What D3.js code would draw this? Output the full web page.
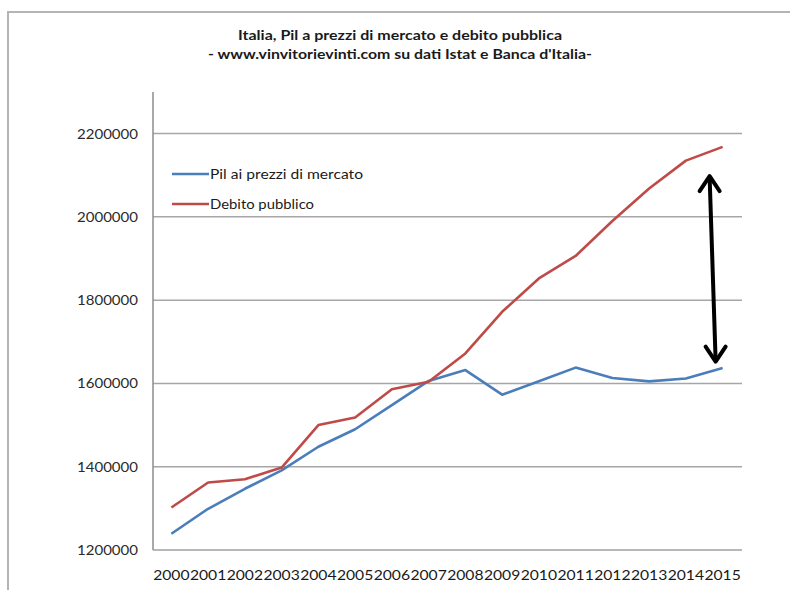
<!DOCTYPE html>
<html><head><meta charset="utf-8">
<script src="https://cdn.jsdelivr.net/npm/d3@7/dist/d3.min.js"></script>
<style>html,body{margin:0;padding:0;background:#fff;}svg{display:block;}</style>
</head><body><svg id="c" width="790" height="590"></svg>
<script>
const years = ["2000","2001","2002","2003","2004","2005","2006","2007","2008","2009","2010","2011","2012","2013","2014","2015"];
const pil = [1239000,1299000,1347000,1391000,1448000,1490000,1548000,1606000,1632000,1573000,1605000,1638000,1613000,1605000,1612000,1637000];
const debito = [1302000,1362000,1370000,1398000,1500000,1518000,1586000,1604000,1672000,1772000,1852000,1906000,1990000,2068000,2135000,2168000];
const yTicks = [1200000,1400000,1600000,1800000,2000000,2200000];
const seriesNames = ["Pil ai prezzi di mercato","Debito pubblico"];
const seriesColors = ["#4a7ebb","#be4b48"];
const titleLines = ["Italia, Pil a prezzi di mercato e debito pubblica","- www.vinvitorievinti.com su dati Istat e Banca d'Italia-"];
const arrowValues = [2100000, 1650000];

const svg = d3.select("#c");
const font = "Lato, 'Open Sans', sans-serif";

// outer frame
svg.append("path").attr("d","M8,590 L8,12 L790,12").attr("fill","none").attr("stroke","#b4b4b4").attr("stroke-width",2);

const x = d3.scaleBand().domain(years).range([153,741]).padding(0);
const y = d3.scaleLinear().domain([1200000,2300000]).range([550,91.9]);

// gridlines
svg.append("g").selectAll("line").data(yTicks.slice(1)).join("line")
  .attr("x1",153).attr("x2",742).attr("y1",d=>y(d)).attr("y2",d=>y(d))
  .attr("stroke","#a6a6a6").attr("stroke-width",1.5);

// axes
svg.append("line").attr("x1",153).attr("x2",742).attr("y1",y(1200000)).attr("y2",y(1200000)).attr("stroke","#a0a0a0").attr("stroke-width",1.5);
svg.append("line").attr("x1",153).attr("x2",153).attr("y1",y(2300000)).attr("y2",y(1200000)).attr("stroke","#8c8c8c").attr("stroke-width",1.5);

// y labels
svg.append("g").selectAll("text").data(yTicks).join("text")
  .attr("x",138).attr("y",d=>y(d)+5).attr("text-anchor","end")
  .attr("font-family",font).attr("font-size",13.5).attr("fill","#2a2a2a")
  .attr("textLength",61).attr("lengthAdjust","spacingAndGlyphs")
  .text(d=>d3.format("d")(d));

// x labels
svg.append("g").selectAll("text").data(years).join("text")
  .attr("x",d=>x(d)+x.bandwidth()/2).attr("y",580).attr("text-anchor","middle")
  .attr("font-family",font).attr("font-size",13.5).attr("fill","#1a1a1a")
  .attr("textLength",36.4).attr("lengthAdjust","spacingAndGlyphs")
  .text(d=>d);

// lines
const line = d3.line().x((d,i)=>x(years[i])+x.bandwidth()/2).y(d=>y(d));
[pil, debito].forEach((s,k)=>{
  svg.append("path").datum(s).attr("d",line).attr("fill","none")
    .attr("stroke",seriesColors[k]).attr("stroke-width",2.6).attr("stroke-linejoin","round");
});

// legend
const lg = svg.append("g");
seriesNames.forEach((n,k)=>{
  const yy = 174 + k*30;
  lg.append("line").attr("x1",172).attr("x2",209).attr("y1",yy).attr("y2",yy)
    .attr("stroke",seriesColors[k]).attr("stroke-width",2.6);
  lg.append("text").attr("x",210).attr("y",yy+4.5).attr("font-family",font).attr("font-size",13.5)
    .attr("fill","#1a1a1a").attr("textLength",k===0?153:104).attr("lengthAdjust","spacingAndGlyphs").text(n);
});

// title
titleLines.forEach((t,k)=>{
  svg.append("text").attr("x",400).attr("y",40+k*19).attr("text-anchor","middle")
    .attr("font-family",font).attr("font-weight","bold").attr("font-size",13.5).attr("fill","#1a1a1a")
    .attr("textLength",k===0?324:384).attr("lengthAdjust","spacingAndGlyphs").text(t);
});

// double arrow annotation
const cx = x("2015")+x.bandwidth()/2;
const ax1 = cx-13, ay1 = y(arrowValues[0]), ax2 = cx-7, ay2 = y(arrowValues[1]);
const ag = svg.append("g").attr("fill","none").attr("stroke","#000").attr("stroke-width",4).attr("stroke-linecap","round").attr("stroke-linejoin","round");
ag.append("line").attr("x1",ax1).attr("y1",ay1+2).attr("x2",ax2).attr("y2",ay2-2);
ag.append("path").attr("d",`M${ax1-10},${ay1+16} L${ax1},${ay1+1} L${ax1+10},${ay1+16}`);
ag.append("path").attr("d",`M${ax2-10},${ay2-16} L${ax2},${ay2-1} L${ax2+10},${ay2-16}`);
</script></body></html>
